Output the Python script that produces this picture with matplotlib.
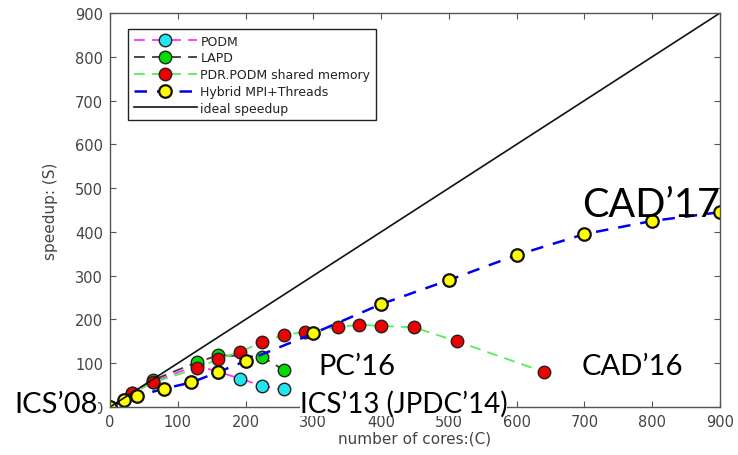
import numpy as np
import matplotlib
matplotlib.use("Agg")
import matplotlib.pyplot as plt

# speedup data
podm_cores = [0, 32, 64, 128, 160, 192, 224, 256]
podm_speedup = [0, 30, 58, 95, 80, 65, 48, 40]

lapd_cores = [0, 32, 64, 128, 160, 224, 256]
lapd_speedup = [0, 31, 62, 102, 118, 115, 85]

pdr_cores = [0, 32, 64, 128, 160, 192, 224, 256, 288, 336, 368, 400, 448, 512, 640]
pdr_speedup = [0, 32, 56, 88, 110, 126, 148, 164, 172, 182, 188, 185, 182, 150, 80]

hybrid_cores = [0, 20, 40, 80, 120, 160, 200, 300, 400, 500, 600, 700, 800, 900]
hybrid_speedup = [0, 15, 25, 42, 56, 80, 105, 168, 235, 290, 347, 395, 425, 445]

ideal_cores = [0, 900]
ideal_speedup = [0, 900]

W, H = 738, 456
fig = plt.figure(figsize=(W / 100, H / 100), dpi=100)
ax = fig.add_axes([110 / W, (H - 408) / H, 610 / W, 394 / H])

ms = 9
ax.plot(podm_cores, podm_speedup, "--", color="#ff33ff", lw=1.3, dashes=(6, 4),
        marker="o", ms=ms, mfc="#22e5f0", mec="#222222", mew=1.0, label="PODM")
ax.plot(lapd_cores, lapd_speedup, "--", color="#3a3a3a", lw=1.3, dashes=(6, 4),
        marker="o", ms=ms, mfc="#00dd00", mec="#222222", mew=1.0, label="LAPD")
ax.plot(pdr_cores, pdr_speedup, "--", color="#55ee55", lw=1.3, dashes=(6, 4),
        marker="o", ms=ms, mfc="#ee0000", mec="#222222", mew=1.0,
        label="PDR.PODM shared memory")
ax.plot(hybrid_cores, hybrid_speedup, "--", color="#0000ee", lw=1.8, dashes=(5, 4),
        marker="o", ms=ms, mfc="#ffff00", mec="#111111", mew=1.6,
        label="Hybrid MPI+Threads")
ax.plot(ideal_cores, ideal_speedup, "-", color="#111111", lw=1.2, label="ideal speedup")

ax.set_xlim(0, 900)
ax.set_ylim(0, 900)
ax.set_xticks(np.arange(0, 901, 100))
ax.set_yticks(np.arange(0, 901, 100))
ax.tick_params(direction="in", length=4, top=True, right=True, colors="#555555",
               labelcolor="#444444", labelsize=10.5, pad=5)
for s in ax.spines.values():
    s.set_color("#555555")
    s.set_linewidth(1.0)
ax.set_xlabel("number of cores:(C)", fontsize=11, color="#444444", labelpad=1)
ax.set_ylabel("speedup: (S)", fontsize=11, color="#444444", labelpad=12)

leg = ax.legend(loc="upper left", bbox_to_anchor=(0.02, 0.975), fontsize=9,
                handlelength=5.0, labelspacing=0.3, borderpad=0.45,
                fancybox=False, edgecolor="#222222", framealpha=1, handletextpad=0.3)
leg.get_frame().set_linewidth(1.0)
for t in leg.get_texts():
    t.set_color("#222222")

# venue annotations
tf = dict(family=["Lato", "DejaVu Sans"], color="black", clip_on=False)
ax.text(-79, 6, "ICS\u201908", fontsize=21, ha="center", va="center",
        bbox=dict(facecolor="white", edgecolor="none", pad=0), **tf)
ax.text(307, 94, "PC\u201916", fontsize=21, ha="left", va="center", **tf)
ax.text(280, 9, "ICS\u201913 (JPDC\u201914)", fontsize=20, ha="left", va="center",
        bbox=dict(facecolor="white", edgecolor="none", pad=0), **tf)
ax.text(696, 94, "CAD\u201916", fontsize=21, ha="left", va="center", **tf)
ax.text(696, 462, "CAD\u201917", fontsize=28.5, ha="left", va="center", **tf)

fig.savefig("out.png", dpi=100)
